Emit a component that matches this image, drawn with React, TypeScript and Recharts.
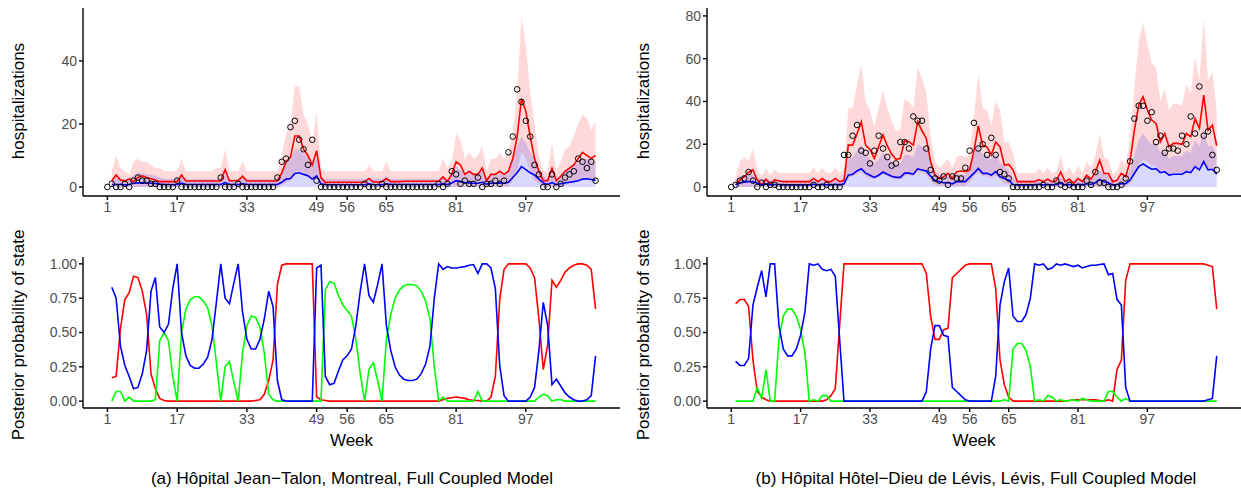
import React from "react";
import { ComposedChart, LineChart, Line, Area, XAxis, YAxis } from "recharts";

// x axis ticks shared by all four panels
const WEEK_TICKS = [1, 17, 33, 49, 56, 65, 81, 97];
const X_DOMAIN = [-4.6, 118.6];

// --- (a) Hôpital Jean-Talon : weekly hospitalizations, weeks 1..113 ---
const jtObs = [
  0, 1, 0, 0, 1, 0, 2, 3, 2, 2,
  1, 1, 0, 0, 0, 0, 2, 0, 0, 0,
  0, 0, 0, 0, 0, 0, 3, 0, 0, 0,
  1, 0, 0, 0, 0, 0, 0, 0, 0, 3,
  8, 9, 19, 21, 15, 12, 7, 15, 2, 0,
  0, 0, 0, 0, 0, 0, 0, 0, 0, 1,
  0, 0, 0, 1, 0, 0, 0, 0, 0, 0,
  0, 0, 0, 0, 0, 0, 1, 0, 1, 5,
  4, 1, 2, 1, 1, 3, 0, 1, 1, 2,
  1, 2, 11, 16, 31, 27, 21, 16, 7, 4,
  0, 0, 4, 0, 1, 3, 4, 5, 9, 8,
  6, 8, 2,
];
// model series start at week 2
const jtRed = [
  2, 3.8, 2.2, 1.9, 2.5, 1.7, 3, 3.5, 3, 2.6,
  2.2, 1.7, 1.7, 1.7, 1.7, 1.7, 3.8, 1.9, 1.9, 1.9,
  1.9, 1.9, 1.9, 1.9, 1.9, 1.9, 5.5, 2, 2, 2,
  3.4, 1.9, 1.9, 1.9, 1.9, 1.9, 1.9, 1.9, 1.9, 4.5,
  8, 9.5, 16.2, 16.2, 12, 10, 7, 11.5, 3, 1.4,
  1.5, 1.5, 1.5, 1.5, 1.5, 1.5, 1.5, 1.5, 1.5, 2.7,
  1.6, 1.6, 1.6, 2.7, 1.7, 1.7, 1.7, 1.8, 1.8, 1.8,
  1.8, 1.8, 1.8, 1.8, 1.8, 1.8, 3.2, 1.8, 4, 8,
  7, 4, 5, 4, 4, 6, 2, 4, 4, 5,
  4, 5, 9, 16, 28, 24, 16, 9, 5, 2,
  2, 6, 2, 3.4, 5, 6, 7, 9, 11, 10,
  9, 10,
];
const jtBlue = [
  0.8, 0.8, 0.8, 0.7, 0.8, 1.2, 1.3, 1.3, 1.3, 1.2,
  1.1, 0.9, 0.8, 0.8, 0.7, 0.8, 1.2, 0.8, 0.8, 0.8,
  0.8, 0.8, 0.8, 0.8, 0.8, 0.8, 1.4, 0.8, 0.8, 0.8,
  1.1, 0.8, 0.8, 0.8, 0.8, 0.8, 0.8, 0.8, 0.8, 1.5,
  2.5, 2.7, 4.3, 4.5, 4, 3.6, 2.5, 3.5, 1, 0.7,
  0.7, 0.7, 0.7, 0.7, 0.7, 0.7, 0.7, 0.7, 0.7, 1,
  0.7, 0.7, 0.7, 1, 0.8, 0.8, 0.8, 0.8, 0.8, 0.8,
  0.8, 0.8, 0.8, 0.8, 0.8, 0.8, 1, 0.8, 1.3, 2,
  1.7, 1.4, 1.3, 1.2, 1.2, 1.5, 0.9, 1.2, 1.2, 1.3,
  1.2, 1.5, 3, 4.5, 6.5, 5.5, 4.5, 3.8, 2.5, 1.3,
  0.8, 1.4, 0.7, 1, 1.3, 1.5, 1.7, 2, 2.5, 2.6,
  2.4, 2.1,
];
const jtRedLo = [
  0, 0, 0, 0, 0, 0, 0, 0, 0, 0,
  0, 0, 0, 0, 0, 0, 0, 0, 0, 0,
  0, 0, 0, 0, 0, 0, 0, 0, 0, 0,
  0, 0, 0, 0, 0, 0, 0, 0, 0, 0.5,
  1.5, 2, 5, 5, 4, 3, 2, 3, 0, 0,
  0, 0, 0, 0, 0, 0, 0, 0, 0, 0,
  0, 0, 0, 0, 0, 0, 0, 0, 0, 0,
  0, 0, 0, 0, 0, 0, 0, 0, 0, 0,
  0, 0, 0, 0, 0, 0, 0, 0, 0, 0,
  0, 0, 2, 5, 11, 9, 5, 2, 1, 0,
  0, 0, 0, 0, 0.5, 1, 1.5, 2, 3, 3,
  2.5, 3,
];
const jtRedHi = [
  5, 10, 6, 5, 4, 8, 9, 8, 8, 7,
  6, 6, 5, 5, 5, 5, 9, 5, 5, 5,
  5, 5, 5, 5, 6, 6, 12, 5, 5, 5,
  8, 5, 5, 5, 5, 5, 5, 5, 5, 10,
  17, 20, 32, 32, 23, 20, 14, 24, 6, 5,
  5, 5, 5, 5, 5, 5, 5, 5, 5, 7,
  5, 5, 5, 8, 5, 5, 5, 5, 5, 5,
  5, 5, 5, 5, 5, 5, 9, 6, 8, 17,
  15, 9, 11, 9, 10, 13, 5, 9, 9, 11,
  9, 11, 17, 30, 54, 45, 30, 20, 10, 5,
  5, 14, 5, 8, 12, 13, 16, 20, 23, 22,
  18, 21,
];
const jtBlueHi = [
  2.5, 3, 2.5, 2.5, 3, 3.5, 4.5, 4.5, 4, 4,
  3.5, 3, 2.5, 2.5, 2.5, 2.5, 3.5, 2.5, 2.5, 2.5,
  2.5, 2.5, 2.5, 2.5, 2.5, 2.5, 4, 2.5, 2.5, 2.5,
  3.5, 2.5, 2.5, 2.5, 2.5, 2.5, 2.5, 2.5, 2.5, 5,
  8, 9, 12, 12, 10.5, 9.5, 7, 9, 3, 2.5,
  2.5, 2.5, 2.5, 2.5, 2.5, 2.5, 2.5, 2.5, 2.5, 3,
  2.5, 2.5, 2.5, 3.5, 2.5, 2.5, 2.5, 2.5, 2.5, 2.5,
  2.5, 2.5, 2.5, 2.5, 2.5, 2.5, 3.5, 2.5, 4, 6,
  5.5, 4.5, 4.5, 4, 4, 5, 3, 4, 4, 4.5,
  4, 5, 9, 13, 16, 14, 11, 9, 6, 3.5,
  2.5, 4.5, 2.5, 3.5, 5, 6, 7, 8, 9, 9,
  8.5, 8,
];
// posterior state probabilities, weeks 2..113
const jtProbRed = [
  0.17, 0.18, 0.53, 0.74, 0.79, 0.91, 0.9, 0.8, 0.63, 0.2,
  0.09, 0.02, 0.005, 0, 0, 0, 0, 0, 0, 0,
  0, 0, 0, 0, 0, 0, 0, 0, 0, 0,
  0, 0, 0, 0.005, 0.01, 0.05, 0.15, 0.3, 0.85, 0.99,
  1, 1, 1, 1, 1, 1, 1, 0.03, 0.01, 0.005,
  0, 0, 0, 0, 0, 0, 0, 0, 0, 0,
  0, 0, 0, 0, 0, 0, 0, 0, 0, 0,
  0, 0, 0, 0, 0, 0, 0.01, 0.02, 0.025, 0.03,
  0.025, 0.02, 0.01, 0.005, 0.005, 0, 0, 0.03, 0.18, 0.74,
  0.96, 1, 1, 1, 1, 1, 0.97, 0.9, 0.6, 0.23,
  0.41, 0.88, 0.83, 0.88, 0.94, 0.97, 0.99, 1, 1, 0.99,
  0.96, 0.67,
];
const jtProbBlue = [
  0.83, 0.75, 0.4, 0.26, 0.18, 0.09, 0.1, 0.2, 0.37, 0.8,
  0.9, 0.54, 0.5, 0.56, 0.82, 1, 0.5, 0.33, 0.26, 0.24,
  0.24, 0.27, 0.32, 0.45, 0.72, 1, 0.75, 0.71, 0.86, 1,
  0.65, 0.45, 0.38, 0.38, 0.45, 0.6, 0.8, 0.69, 0.15, 0.01,
  0, 0, 0, 0, 0, 0, 0, 0.97, 0.99, 0.18,
  0.12, 0.13, 0.22, 0.3, 0.33, 0.38, 0.55, 0.8, 1, 0.77,
  0.72, 0.85, 1, 0.55, 0.37, 0.25, 0.19, 0.16, 0.15, 0.15,
  0.16, 0.2, 0.27, 0.4, 0.75, 1, 0.96, 0.98, 0.97, 0.97,
  0.975, 0.98, 0.99, 0.995, 0.93, 1, 1, 0.97, 0.82, 0.26,
  0.04, 0, 0, 0, 0, 0, 0.03, 0.1, 0.37, 0.72,
  0.55, 0.12, 0.16, 0.11, 0.06, 0.03, 0.01, 0, 0, 0.01,
  0.04, 0.33,
];
const jtProbGreen = [
  0, 0.07, 0.07, 0, 0.03, 0, 0, 0, 0, 0,
  0.01, 0.44, 0.5, 0.44, 0.18, 0, 0.5, 0.67, 0.74, 0.76,
  0.76, 0.73, 0.68, 0.55, 0.28, 0, 0.25, 0.29, 0.14, 0,
  0.35, 0.55, 0.62, 0.61, 0.54, 0.35, 0.05, 0.01, 0, 0,
  0, 0, 0, 0, 0, 0, 0, 0, 0, 0.81,
  0.87, 0.86, 0.77, 0.7, 0.66, 0.62, 0.45, 0.2, 0, 0.23,
  0.28, 0.15, 0, 0.45, 0.63, 0.75, 0.81, 0.84, 0.85, 0.85,
  0.84, 0.8, 0.73, 0.6, 0.25, 0, 0.03, 0, 0, 0,
  0, 0, 0, 0, 0.07, 0, 0, 0, 0, 0,
  0, 0, 0, 0, 0, 0, 0, 0, 0.03, 0.05,
  0.04, 0, 0.01, 0.01, 0, 0, 0, 0, 0, 0,
  0, 0,
];

// --- (b) Hôpital Hôtel-Dieu de Lévis ---
const lvObs = [
  0, 1, 3, 4, 7, 3, 0, 2, 0, 1,
  1, 0, 0, 0, 0, 0, 0, 0, 0, 1,
  0, 0, 1, 0, 0, 0, 15, 15, 24, 29,
  17, 16, 11, 17, 24, 18, 14, 10, 11, 21,
  21, 18, 33, 31, 31, 18, 8, 4, 3, 5,
  1, 5, 4, 4, 9, 17, 30, 18, 20, 15,
  23, 15, 7, 6, 4, 0, 0, 0, 0, 0,
  0, 0, 1, 0, 0, 3, 1, 0, 1, 0,
  0, 0, 3, 1, 7, 2, 2, 0, 0, 0,
  1, 4, 12, 32, 38, 38, 31, 35, 21, 24,
  16, 18, 18, 17, 24, 20, 33, 25, 47, 24,
  26, 15, 8,
];
const lvRed = [
  1, 3.3, 4.8, 6.9, 8, 3.3, 1, 3.6, 1.4, 3.3,
  2.8, 2.5, 2.5, 2.5, 2.5, 2.5, 2.5, 2.5, 4, 2.5,
  4, 2.5, 2.5, 4, 2.5, 3, 19.6, 19.6, 24.8, 30.5,
  19.6, 17.6, 13.4, 18.8, 24.3, 19.2, 15.4, 12.9, 13.4, 21.6,
  21.2, 19.6, 30.5, 26.3, 22.7, 11.8, 5.6, 4, 4.8, 6.4,
  4, 7.2, 7.5, 7.2, 8, 17, 28.6, 19.4, 18.8, 15,
  21, 18.8, 10.3, 10.6, 8, 2.5, 2.5, 2.5, 2.5, 2.5,
  3.5, 2.5, 3.7, 2.5, 3, 7, 2.5, 3.7, 1.7, 4,
  2.5, 5.5, 3.7, 7, 12.5, 6.3, 6.3, 2.5, 3.2, 6.4,
  4.8, 12, 26.6, 38.3, 42.2, 36, 31.3, 29.7, 21.2, 25,
  18.8, 20.4, 20.4, 20, 25, 23.5, 32, 27.4, 43, 26.6,
  28.9, 19.3,
];
const lvBlue = [
  1, 2, 2.3, 2.5, 2.5, 1.8, 1, 1.5, 1, 1.2,
  1.2, 1, 1, 1, 1, 1, 1, 1, 1.3, 1,
  1.3, 1, 1, 1.3, 1, 1.5, 5.5, 6, 7.5, 8.5,
  6.5, 5.5, 4.5, 5.5, 7, 6, 5, 4.5, 4.5, 6.5,
  6.5, 6, 8.5, 8, 7.5, 5, 3, 2.5, 2, 2,
  1.5, 2.5, 2.5, 2.5, 4.5, 6.5, 8.7, 6.4, 6.4, 5.6,
  7.2, 4.8, 4, 3.2, 1.2, 1, 1, 1, 1, 1,
  1.3, 1, 1.2, 1, 1.2, 1.8, 1, 1.2, 0.9, 1.3,
  1, 1.5, 1.2, 2, 3.5, 2.5, 2, 1, 1.2, 1.5,
  1.5, 3.2, 6.4, 9.5, 10.8, 9.5, 8.3, 8.6, 6.7, 7.2,
  5.6, 6, 6, 6, 7.2, 6.7, 9.5, 8, 11.9, 8,
  8.3, 6,
];
const lvRedLo = [
  0, 0, 0, 0, 0, 0, 0, 0, 0, 0,
  0, 0, 0, 0, 0, 0, 0, 0, 0, 0,
  0, 0, 0, 0, 0, 0.5, 4, 5, 6, 7,
  5, 4, 3.5, 4.5, 6, 5, 4, 3.5, 3.5, 5,
  5.5, 5, 7, 7, 6, 3, 1, 0.5, 0.5, 0.5,
  0, 0.5, 0.5, 0.5, 2.5, 5, 7, 5, 5, 4,
  5.5, 3.5, 1.5, 1, 0, 0, 0, 0, 0, 0,
  0, 0, 0, 0, 0, 0, 0, 0, 0, 0,
  0, 0, 0, 0, 0, 0, 0, 0, 0, 0,
  0, 1.5, 5, 10, 13, 12, 10, 10, 7.5, 8,
  6, 6.5, 6.5, 6.5, 7.5, 7, 10, 8.5, 13, 8.5,
  9, 6,
];
const lvRedHi = [
  5, 12, 14, 12, 18, 8, 5, 8.7, 5.6, 8,
  6.5, 6.5, 6.5, 6.5, 6.5, 6.5, 6.5, 6.5, 9, 6.5,
  9, 6.5, 6.5, 9, 6.5, 8, 37, 37, 48, 57,
  40, 36, 28, 37, 45, 37, 31, 26, 27, 41,
  40, 37, 56, 51, 44, 24, 12, 9, 11, 13,
  9, 14, 15, 14, 16, 33, 53, 37, 36, 29,
  40, 36, 21, 21, 16, 6.5, 6.5, 6.5, 6.5, 6.5,
  8.6, 6.5, 9, 6.5, 7, 15, 6.5, 9, 6, 10,
  6.5, 12, 9, 15, 25, 14, 13, 6, 7.5, 13,
  11, 22, 47, 68, 77, 67, 58, 56, 40, 46,
  36, 39, 39, 38, 48, 44, 61, 50, 79, 50,
  54, 36,
];
const lvBlueHi = [
  3.5, 5, 5.5, 6, 6, 4.5, 3.5, 4, 3.5, 3.5,
  3.5, 3, 3, 3, 3, 3, 3, 3, 3.5, 3,
  3.5, 3, 3, 3.5, 3, 4, 13, 14, 17, 20,
  15, 13, 11, 13, 16, 14, 12, 11, 11, 15,
  15, 14, 20, 19, 18, 12, 7, 6, 5.5, 5.5,
  4.5, 6, 6, 6, 11, 15, 20, 15, 15, 13,
  16, 11.5, 9.5, 8, 4, 3, 3, 3, 3, 3,
  3.5, 3, 3.5, 3, 3.5, 4.5, 3, 3.5, 3, 3.5,
  3, 4, 3.5, 5, 8, 6, 5, 3, 3.5, 4,
  4, 8, 15, 22, 25, 22, 20, 20.5, 16, 17,
  13.5, 14.5, 14.5, 14.5, 17, 16, 22, 19, 27, 19,
  19.5, 15,
];
const lvProbRed = [
  0.71, 0.74, 0.74, 0.69, 0.3, 0.07, 0.03, 0.01, 0, 0,
  0, 0, 0, 0, 0, 0, 0, 0, 0, 0,
  0, 0.01, 0.04, 0.09, 0.55, 1, 1, 1, 1, 1,
  1, 1, 1, 1, 1, 1, 1, 1, 1, 1,
  1, 1, 1, 1, 0.93, 0.62, 0.45, 0.45, 0.52, 0.53,
  0.9, 0.93, 0.96, 0.99, 1, 1, 1, 1, 1, 1,
  0.82, 0.3, 0.12, 0.03, 0, 0, 0, 0, 0, 0,
  0, 0, 0, 0, 0, 0, 0, 0.005, 0.01, 0.01,
  0.01, 0.01, 0.01, 0.01, 0.005, 0, 0.01, 0, 0.23, 0.3,
  0.88, 1, 1, 1, 1, 1, 1, 1, 1, 1,
  1, 1, 1, 1, 1, 1, 1, 1, 1, 0.99,
  0.98, 0.67,
];
const lvProbBlue = [
  0.29, 0.26, 0.26, 0.31, 0.7, 0.83, 0.95, 0.76, 1, 1,
  0.55, 0.38, 0.33, 0.33, 0.38, 0.48, 0.65, 1, 0.99, 1,
  0.96, 0.95, 0.96, 0.91, 0.45, 0, 0, 0, 0, 0,
  0, 0, 0, 0, 0, 0, 0, 0, 0, 0,
  0, 0, 0, 0, 0.07, 0.38, 0.55, 0.55, 0.48, 0.47,
  0.1, 0.07, 0.04, 0.01, 0, 0, 0, 0, 0, 0,
  0.18, 0.7, 0.87, 0.97, 0.62, 0.58, 0.58, 0.63, 0.75, 1,
  0.99, 1, 0.96, 0.97, 1, 0.99, 1, 0.99, 0.98, 0.99,
  0.97, 0.98, 0.99, 0.99, 0.995, 1, 0.92, 0.93, 0.74, 0.7,
  0.1, 0, 0, 0, 0, 0, 0, 0, 0, 0,
  0, 0, 0, 0, 0, 0, 0, 0, 0, 0.01,
  0.02, 0.33,
];
const lvProbGreen = [
  0, 0, 0, 0, 0, 0.1, 0.02, 0.23, 0, 0,
  0.45, 0.62, 0.67, 0.67, 0.62, 0.52, 0.35, 0, 0.01, 0,
  0.04, 0.04, 0, 0, 0, 0, 0, 0, 0, 0,
  0, 0, 0, 0, 0, 0, 0, 0, 0, 0,
  0, 0, 0, 0, 0, 0, 0, 0, 0, 0,
  0, 0, 0, 0, 0, 0, 0, 0, 0, 0,
  0, 0, 0.01, 0, 0.38, 0.42, 0.42, 0.37, 0.25, 0,
  0.01, 0, 0.04, 0.03, 0, 0.01, 0, 0.005, 0.01, 0,
  0.02, 0.01, 0, 0, 0, 0, 0.07, 0.07, 0.03, 0,
  0.02, 0, 0, 0, 0, 0, 0, 0, 0, 0,
  0, 0, 0, 0, 0, 0, 0, 0, 0, 0,
  0, 0,
];

const FONT = "'Liberation Sans', Arial, Helvetica, sans-serif";
const TICK = { fill: "#4d4d4d", fontSize: 14, fontFamily: FONT };
const AXIS = { stroke: "#000", strokeWidth: 1.4 };

// week 1 has only an observation, the fitted series begin at week 2
function hospRows(obs, red, blue, lo, hi, blueHi) {
  return obs.map((o, i) => {
    if (i === 0) return { week: 1, obs: o, red: null, blue: null, redBand: null, blueBand: null };
    const k = i - 1;
    return { week: i + 1, obs: o, red: red[k], blue: blue[k], redBand: [lo[k], hi[k]], blueBand: [0, blueHi[k]] };
  });
}

function probRows(r, b, g) {
  return r.map((v, k) => ({ week: k + 2, red: v, blue: b[k], green: g[k] }));
}

function HospPanel({ data, width, yWidth, yDomain, yTicks }) {
  return (
    <ComposedChart width={width} height={225} data={data} margin={{ top: 8, right: 0, bottom: 0, left: 0 }}>
      <XAxis dataKey="week" type="number" domain={X_DOMAIN} ticks={WEEK_TICKS} interval={0} allowDataOverflow
        height={29} tick={TICK} tickLine={AXIS} axisLine={AXIS} tickSize={4} tickMargin={2} />
      <YAxis type="number" domain={yDomain} ticks={yTicks} interval={0} allowDataOverflow
        width={yWidth} tick={TICK} tickLine={AXIS} axisLine={AXIS} tickSize={4} tickMargin={2} />
      <Area dataKey="redBand" type="linear" stroke="none" fill="#ff0000" fillOpacity={0.15} isAnimationActive={false} />
      <Area dataKey="blueBand" type="linear" stroke="none" fill="#0000ff" fillOpacity={0.15} isAnimationActive={false} />
      <Line dataKey="red" type="linear" stroke="#ff0000" strokeWidth={1.6} dot={false} isAnimationActive={false} />
      <Line dataKey="blue" type="linear" stroke="#0000ff" strokeWidth={1.6} dot={false} isAnimationActive={false} />
      <Line dataKey="obs" stroke="none" activeDot={false} isAnimationActive={false}
        dot={{ r: 2.8, stroke: "#000", strokeWidth: 1, fill: "none" }} />
    </ComposedChart>
  );
}

function ProbPanel({ data, width, yWidth }) {
  return (
    <LineChart width={width} height={200} data={data} margin={{ top: 17, right: 0, bottom: 0, left: 0 }}>
      <XAxis dataKey="week" type="number" domain={X_DOMAIN} ticks={WEEK_TICKS} interval={0} allowDataOverflow
        height={32} tick={TICK} tickLine={AXIS} axisLine={AXIS} tickSize={4} tickMargin={2} />
      <YAxis type="number" domain={[-0.05, 1.05]} ticks={[0, 0.25, 0.5, 0.75, 1]} interval={0}
        tickFormatter={(v) => v.toFixed(2)} width={yWidth} tick={TICK} tickLine={AXIS} axisLine={AXIS}
        tickSize={4} tickMargin={2} />
      <Line dataKey="red" stroke="#ff0000" strokeWidth={1.6} dot={false} isAnimationActive={false} />
      <Line dataKey="green" stroke="#00ff00" strokeWidth={1.6} dot={false} isAnimationActive={false} />
      <Line dataKey="blue" stroke="#0000ff" strokeWidth={1.6} dot={false} isAnimationActive={false} />
    </LineChart>
  );
}

export default function App() {
  const jtHosp = hospRows(jtObs, jtRed, jtBlue, jtRedLo, jtRedHi, jtBlueHi);
  const lvHosp = hospRows(lvObs, lvRed, lvBlue, lvRedLo, lvRedHi, lvBlueHi);
  const jtProb = probRows(jtProbRed, jtProbBlue, jtProbGreen);
  const lvProb = probRows(lvProbRed, lvProbBlue, lvProbGreen);

  const title = { fontFamily: FONT, fontSize: 17, fill: "#000" };
  const caption = { fontFamily: FONT, fontSize: 17, fill: "#000" };

  return (
    <div style={{ position: "absolute", left: 0, top: 0, width: 1241, height: 488, background: "#fff", overflow: "hidden" }}>
      <div style={{ position: "absolute", left: 0, top: 0 }}>
        <HospPanel data={jtHosp} width={620} yWidth={83} yDomain={[-2.86, 56.8]} yTicks={[0, 20, 40]} />
      </div>
      <div style={{ position: "absolute", left: 620, top: 0 }}>
        <HospPanel data={lvHosp} width={621} yWidth={87} yDomain={[-4.2, 83.7]} yTicks={[0, 20, 40, 60, 80]} />
      </div>
      <div style={{ position: "absolute", left: 0, top: 240 }}>
        <ProbPanel data={jtProb} width={620} yWidth={83} />
      </div>
      <div style={{ position: "absolute", left: 620, top: 240 }}>
        <ProbPanel data={lvProb} width={621} yWidth={87} />
      </div>
      <svg width={1241} height={488} style={{ position: "absolute", left: 0, top: 0, pointerEvents: "none" }}>
        <text transform="translate(18,101) rotate(-90)" textAnchor="middle" dominantBaseline="central" style={title}>hospitalizations</text>
        <text transform="translate(643,101) rotate(-90)" textAnchor="middle" dominantBaseline="central" style={title}>hospitalizations</text>
        <text transform="translate(18,335) rotate(-90)" textAnchor="middle" dominantBaseline="central" style={title}>Posterior probability of state</text>
        <text transform="translate(643,335) rotate(-90)" textAnchor="middle" dominantBaseline="central" style={title}>Posterior probability of state</text>
        <text x={351.5} y={440} textAnchor="middle" dominantBaseline="central" style={title}>Week</text>
        <text x={974} y={440} textAnchor="middle" dominantBaseline="central" style={title}>Week</text>
        <text x={352} y={478} textAnchor="middle" dominantBaseline="central" style={caption}>(a) Hôpital Jean−Talon, Montreal, Full Coupled Model</text>
        <text x={976} y={478} textAnchor="middle" dominantBaseline="central" style={caption}>(b) Hôpital Hôtel−Dieu de Lévis, Lévis, Full Coupled Model</text>
      </svg>
    </div>
  );
}
